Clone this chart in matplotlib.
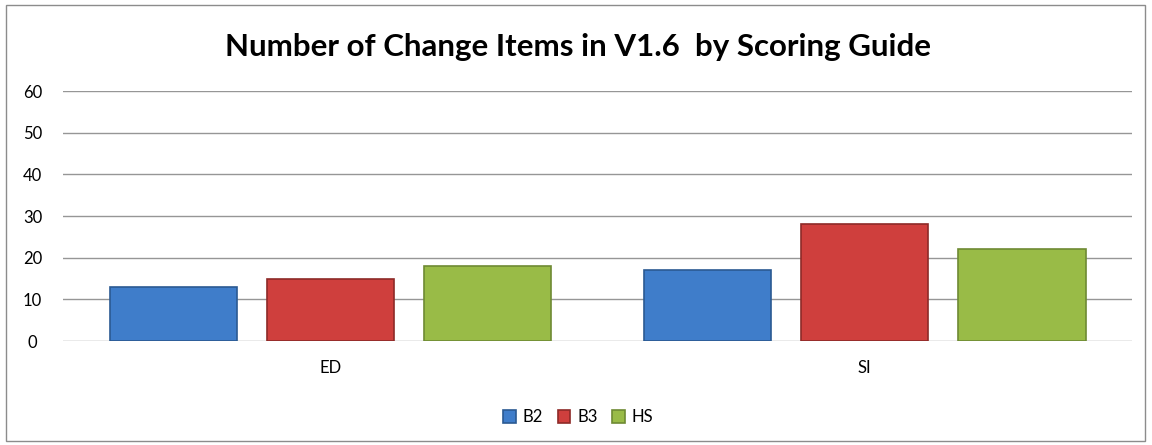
#!/usr/bin/env python3
"""
Number of change items in V1.6, grouped by scoring guide.
"""

import matplotlib
matplotlib.use('Agg')
import matplotlib.pyplot as plt
from matplotlib.patches import Rectangle
import numpy as np

plt.rcParams['font.family'] = ['Lato', 'DejaVu Sans']

categories = ["ED", "SI"]
series_names = ["B2", "B3", "HS"]
b2_counts = [13, 17]
b3_counts = [15, 28]
hs_counts = [18, 22]
y_ticks = [0, 10, 20, 30, 40, 50, 60]

FACE = {"B2": "#3f7dca", "B3": "#cf3f3d", "HS": "#99bb47"}
EDGE = {"B2": "#2b5a92", "B3": "#8e2a28", "HS": "#6e8a33"}


def main() -> None:
    fig = plt.figure(figsize=(11.52, 4.45), dpi=100)
    fig.patches.append(Rectangle((0.005, 0.01), 0.989, 0.979, transform=fig.transFigure,
                                 fill=False, edgecolor="#8c8c8c", linewidth=1))
    ax = fig.add_axes([0.0547, 0.2337, 0.928, 0.5618])

    x = np.arange(len(categories))
    width = 0.238
    step = 0.294
    values = [b2_counts, b3_counts, hs_counts]
    for i, (name, vals) in enumerate(zip(series_names, values)):
        ax.bar(x + (i - 1) * step, vals, width, color=FACE[name],
               edgecolor=EDGE[name], linewidth=1.2, label=name, zorder=3)

    ax.set_xlim(-0.5, 1.5)
    ax.set_ylim(0, 60)
    ax.set_yticks(y_ticks)
    ax.set_xticks(x)
    ax.set_xticklabels(categories)
    ax.grid(axis="y", color="#969696", linewidth=1, zorder=0)
    for side in ["top", "right", "left", "bottom"]:
        ax.spines[side].set_visible(False)
    ax.tick_params(axis="both", length=0, labelsize=12, colors="black")
    ax.tick_params(axis="y", pad=22)
    ax.tick_params(axis="x", pad=14)
    for lbl in ax.get_yticklabels():
        lbl.set_horizontalalignment("center")

    fig.suptitle("Number of Change Items in V1.6  by Scoring Guide", x=0.502, y=0.925,
                 fontsize=22.5, fontweight="bold")

    fig.legend(loc="center", bbox_to_anchor=(0.502, 0.062), ncol=3, frameon=False,
               fontsize=12, handlelength=0.75, handleheight=0.75,
               handletextpad=0.4, columnspacing=0.9)

    fig.savefig("out.png", dpi=100)
    plt.close(fig)


if __name__ == "__main__":
    main()
